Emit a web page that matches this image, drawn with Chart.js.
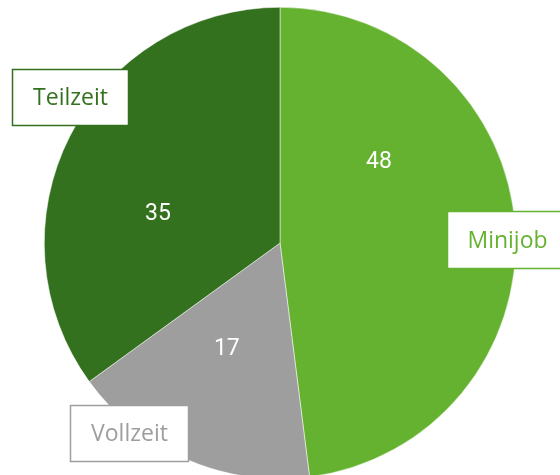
<!DOCTYPE html>
<html>
<head>
<meta charset="utf-8">
<script src="https://cdn.jsdelivr.net/npm/chart.js@4/dist/chart.umd.min.js"></script>
<style>
html,body{margin:0;padding:0;background:#fff;overflow:hidden;width:560px;height:475px;}
#wrap{position:absolute;left:0;top:0;width:560px;height:486px;}
</style>
</head>
<body>
<div id="wrap"><canvas id="c" width="560" height="486"></canvas></div>
<script>
const categories = ["Minijob", "Vollzeit", "Teilzeit"];
const values = [48, 17, 35];
const colors = ["#64b22f", "#9d9e9d", "#33711f"];

// value label placement: angle (deg, canvas coords) and radius fraction
const valueLabelPos = [
  {angle: -39.6, r: 0.545},
  {angle: 116.8, r: 0.50},
  {angle: 193.5, r: 0.532}
];
// outer category boxes (layout only)
const boxLayout = [
  {x: 447, y: 211, w: 120, h: 58},
  {x: 70, y: 405, w: 119, h: 57},
  {x: 12, y: 69, w: 117, h: 57}
];

const labelPlugin = {
  id: 'labels',
  afterDraw(chart) {
    const ctx = chart.ctx;
    const meta = chart.getDatasetMeta(0);
    ctx.save();
    meta.data.forEach((arc, i) => {
      const p = valueLabelPos[i];
      const a = p.angle * Math.PI / 180;
      const x = arc.x + Math.cos(a) * arc.outerRadius * p.r;
      const y = arc.y + Math.sin(a) * arc.outerRadius * p.r;
      ctx.fillStyle = '#ffffff';
      ctx.font = '23px Roboto';
      ctx.textAlign = 'center';
      ctx.textBaseline = 'middle';
      ctx.fillText(String(values[i]), x, y + 1);
    });
    categories.forEach((name, i) => {
      const b = boxLayout[i];
      ctx.fillStyle = '#ffffff';
      ctx.fillRect(b.x, b.y, b.w, b.h);
      ctx.strokeStyle = colors[i];
      ctx.lineWidth = 1.5;
      ctx.strokeRect(b.x + 0.5, b.y + 0.5, b.w - 1, b.h - 1);
      ctx.fillStyle = colors[i];
      ctx.font = '23px "Open Sans"';
      ctx.textAlign = 'center';
      ctx.textBaseline = 'middle';
      const cx = i === 0 ? 507.5 : b.x + b.w / 2;
      ctx.fillText(name, cx, b.y + b.h / 2 + 1);
    });
    ctx.restore();
  }
};

new Chart(document.getElementById('c'), {
  type: 'pie',
  data: {
    labels: categories,
    datasets: [{
      data: values,
      backgroundColor: colors,
      borderColor: '#ffffff',
      borderWidth: 0.5
    }]
  },
  options: {
    responsive: false,
    animation: false,
    layout: {padding: {top: 7, bottom: 7, left: 0, right: 0}},
    plugins: {legend: {display: false}, tooltip: {enabled: false}}
  },
  plugins: [labelPlugin]
});
</script>
</body>
</html>
